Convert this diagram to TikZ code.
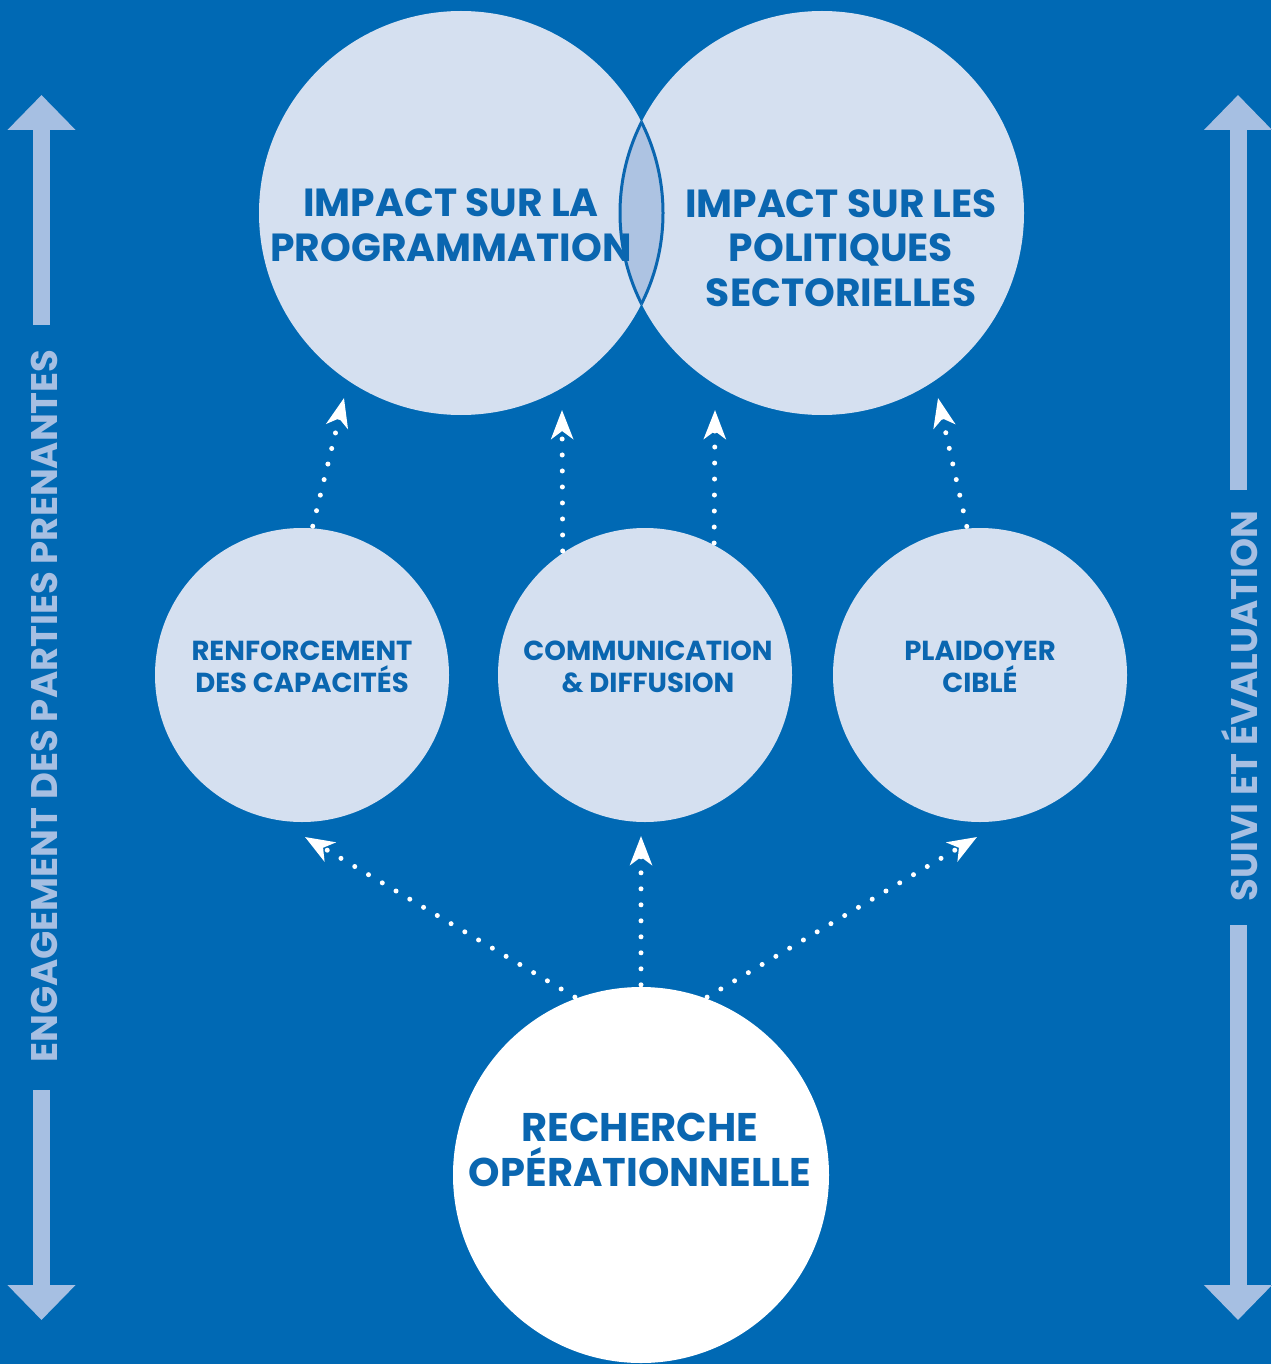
\documentclass[tikz,border=0pt]{standalone}
\usepackage{fontspec}
\setmainfont{Poppins}
\usetikzlibrary{arrows.meta}
\definecolor{bg}{HTML}{0069B4}
\definecolor{lightc}{HTML}{D5E0F0}
\definecolor{lensc}{HTML}{ADC3E2}
\definecolor{sidec}{HTML}{A6BFE2}
\definecolor{txtc}{HTML}{0A66B0}
\tikzset{
  bigc/.style={circle, fill=lightc, minimum size=404pt, inner sep=0pt},
  midc/.style={circle, fill=lightc, minimum size=294pt, inner sep=0pt},
  botc/.style={circle, fill=white, minimum size=376pt, inner sep=0pt},
  bigt/.style={text=txtc, align=center, font=\fontsize{39.2}{44.5}\selectfont\bfseries},
  midt/.style={text=txtc, align=center, font=\fontsize{27.5}{32}\selectfont\bfseries},
  bott/.style={text=txtc, align=center, font=\fontsize{40}{45}\selectfont\bfseries},
  sidet/.style={text=sidec, rotate=90, font=\fontsize{37}{40}\selectfont\bfseries},
  sidebar/.style={draw=sidec, line width=17pt, -{Triangle[length=35pt,width=66pt]}},
  dotarrow/.style={draw=white, line width=5pt, line cap=round, dash pattern=on 0pt off 16pt,
    -{Stealth[length=29pt,width=22pt,inset=8pt,fill=white]}, shorten <=2pt},
}
\begin{document}
\begin{tikzpicture}[x=1pt,y=-1pt]
\fill[bg] (0,0) rectangle (1271,1364);
\useasboundingbox (0,0) rectangle (1271,1364);

% side arrows
\coordinate (l1) at (41.5,325); \coordinate (l1t) at (41.5,95);
\coordinate (l2) at (41.5,1090); \coordinate (l2t) at (41.5,1320);
\coordinate (r1) at (1238,490); \coordinate (r1t) at (1238,95);
\coordinate (r2) at (1238,925); \coordinate (r2t) at (1238,1320);
\draw[sidebar] (l1) -- (l1t);
\draw[sidebar] (l2) -- (l2t);
\draw[sidebar] (r1) -- (r1t);
\draw[sidebar] (r2) -- (r2t);
\node[sidet] (ltext) at (44,706) {ENGAGEMENT DES PARTIES PRENANTES};
\node[sidet] (rtext) at (1240,706) {SUIVI ET ÉVALUATION};

% top circles
\node[bigc] (prog) at (461,213) {};
\node[bigc] (pol) at (822,213) {};
\begin{scope}
  \clip (461,213) circle[radius=202pt];
  \fill[lensc] (822,213) circle[radius=202pt];
  \draw[txtc, line width=3pt] (822,213) circle[radius=202pt];
\end{scope}
\begin{scope}
  \clip (822,213) circle[radius=202pt];
  \draw[txtc, line width=3pt] (461,213) circle[radius=202pt];
\end{scope}
\node[bigt] (progt) at (451,225) {IMPACT SUR LA\\PROGRAMMATION};
\node[bigt] (polt) at (841,248) {IMPACT SUR LES\\POLITIQUES\\SECTORIELLES};

% middle circles
\node[midc] (ren) at (302,675) {};
\node[midc] (com) at (645,675) {};
\node[midc] (pla) at (980,675) {};
\node[midt] (rent) at (302,667) {RENFORCEMENT\\DES CAPACITÉS};
\node[midt] (comt) at (648,667) {COMMUNICATION\\\& DIFFUSION};
\node[midt] (plat) at (980,667) {PLAIDOYER\\CIBLÉ};

% bottom circle
\node[botc] (rech) at (641,1175) {};
\node[bott] (recht) at (640,1150) {RECHERCHE\\OPÉRATIONNELLE};

% arrow targets
\coordinate (t1) at (344,398);
\coordinate (t2) at (562,410);
\coordinate (t3) at (715,410);
\coordinate (t4) at (938,398);
\coordinate (b1) at (305,837);
\coordinate (b2) at (641,836);
\coordinate (b3) at (977,837);

\draw[dotarrow] (ren.86) -- (t1);
\draw[dotarrow] (com.124) -- (t2);
\draw[dotarrow] (com.62) -- (t3);
\draw[dotarrow] (pla.95) -- (t4);
\draw[dotarrow] (rech.110) -- (b1);
\draw[dotarrow] (rech.90) -- (b2);
\draw[dotarrow] (rech.70) -- (b3);
\end{tikzpicture}
\end{document}
